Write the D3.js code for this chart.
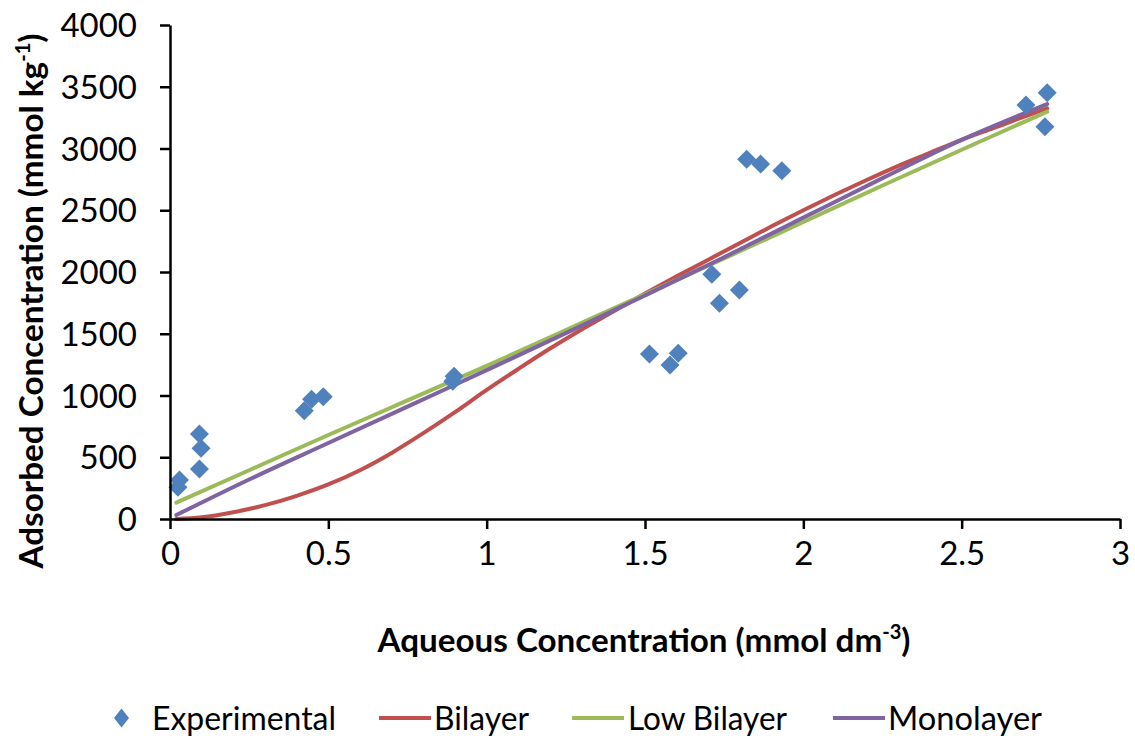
<!DOCTYPE html>
<html>
<head>
<meta charset="utf-8">
<script src="https://cdn.jsdelivr.net/npm/d3@7"></script>
<style>
  html, body { margin: 0; padding: 0; background: #fff; }
  svg { display: block; }
  text { font-family: Lato, "Open Sans", sans-serif; fill: #000; }
</style>
</head>
<body>
<svg id="chart" width="1135" height="738"></svg>
<script>
// Experimental adsorption data
const expX = [0.025, 0.03, 0.093, 0.098, 0.093, 0.424, 0.447, 0.484, 0.893, 0.897,
              1.514, 1.579, 1.605, 1.711, 1.735, 1.798, 1.821, 1.865, 1.932,
              2.703, 2.763, 2.770];
const expY = [257, 316, 405, 572, 688, 877, 969, 990, 1115, 1155,
              1336, 1247, 1342, 1981, 1746, 1854, 2913, 2874, 2820,
              3352, 3177, 3452];

// Bilayer model curve
const bilayerX = [0.02, 0.1, 0.2, 0.3, 0.4, 0.5, 0.6, 0.7, 0.8, 0.9, 1.0, 1.1, 1.2, 1.3,
                  1.4, 1.5, 1.6, 1.7, 1.8, 1.9, 2.0, 2.1, 2.2, 2.3, 2.4, 2.5, 2.6, 2.7, 2.77];
const bilayerY = [0, 14, 55, 112, 188, 280, 395, 535, 695, 865, 1045, 1215, 1380, 1535,
                  1680, 1825, 1965, 2100, 2235, 2370, 2500, 2625, 2745, 2860, 2965, 3070, 3165, 3260, 3325];

// Low bilayer and monolayer model curves
const modelX = [0.02, 0.25, 0.5, 0.75, 1.0, 1.25, 1.5, 1.75, 2.0, 2.25, 2.5, 2.77];
const lowBilayerY = [133, 395, 680, 960, 1240, 1530, 1820, 2110, 2405, 2700, 2990, 3298];
const monolayerY  = [32, 320, 615, 910, 1205, 1505, 1810, 2120, 2440, 2760, 3070, 3360];

const xTicks = [0, 0.5, 1, 1.5, 2, 2.5, 3];
const xTickLabels = ["0", "0.5", "1", "1.5", "2", "2.5", "3"];
const yTicks = [0, 500, 1000, 1500, 2000, 2500, 3000, 3500, 4000];

const seriesNames = ["Experimental", "Bilayer", "Low Bilayer", "Monolayer"];
const colors = { marker: "#4F81BD", bilayer: "#C0504D", low: "#9BBB59", mono: "#8064A2" };

const svg = d3.select("#chart");
const plot = { left: 170, right: 1120, top: 25, bottom: 519 };

const x = d3.scaleLinear().domain([0, 3]).range([plot.left, plot.right]);
const y = d3.scaleLinear().domain([0, 4000]).range([plot.bottom, plot.top]);

// Model curves
const line = d3.line().x(d => x(d[0])).y(d => y(d[1])).curve(d3.curveMonotoneX);
const curves = [
  { xs: bilayerX, ys: bilayerY, color: colors.bilayer },
  { xs: modelX, ys: lowBilayerY, color: colors.low },
  { xs: modelX, ys: monolayerY, color: colors.mono }
];
svg.append("g").selectAll("path")
  .data(curves)
  .join("path")
  .attr("d", c => line(c.xs.map((v, i) => [v, c.ys[i]])))
  .attr("fill", "none")
  .attr("stroke", c => c.color)
  .attr("stroke-width", 4)
  .attr("stroke-linecap", "round");

// Experimental markers (diamonds)
const diamond = (hw, hh) => `M0,${-hh}L${hw},0L0,${hh}L${-hw},0Z`;
svg.append("g").selectAll("path")
  .data(expX.map((v, i) => [v, expY[i]]))
  .join("path")
  .attr("d", diamond(9.5, 9.5))
  .attr("transform", d => `translate(${x(d[0])},${y(d[1])})`)
  .attr("fill", colors.marker);

// Axes
const yAxis = svg.append("g")
  .attr("transform", `translate(${plot.left},0)`)
  .call(d3.axisLeft(y).tickValues(yTicks).tickSize(10).tickSizeOuter(0).tickPadding(23)
        .tickFormat(d3.format("d")));
const xAxis = svg.append("g")
  .attr("transform", `translate(0,${plot.bottom})`)
  .call(d3.axisBottom(x).tickValues(xTicks).tickSize(10).tickSizeOuter(0)
        .tickFormat((d, i) => xTickLabels[i]));

[yAxis, xAxis].forEach(g => {
  g.select(".domain").attr("stroke", "#000").attr("stroke-width", 2.5);
  g.selectAll(".tick line").attr("stroke", "#000").attr("stroke-width", 2.5);
  g.selectAll(".tick text").attr("font-size", 33).attr("font-family", "Lato, sans-serif").attr("fill", "#000");
});
yAxis.selectAll(".tick text").attr("dy", "0.35em");
xAxis.selectAll(".tick text").attr("y", 46).attr("dy", 0);

// Axis titles
const xTitle = svg.append("text")
  .attr("x", 644).attr("y", 652)
  .attr("text-anchor", "middle")
  .attr("font-size", 33).attr("font-weight", "bold")
  .attr("textLength", 533).attr("lengthAdjust", "spacingAndGlyphs");
xTitle.append("tspan").text("Aqueous Concentration (mmol dm");
xTitle.append("tspan").attr("font-size", 20).attr("dy", -13).text("-3");
xTitle.append("tspan").attr("dy", 13).text(")");

const yTitle = svg.append("text")
  .attr("transform", "translate(43,301) rotate(-90)")
  .attr("text-anchor", "middle")
  .attr("font-size", 33).attr("font-weight", "bold")
  .attr("textLength", 535).attr("lengthAdjust", "spacingAndGlyphs");
yTitle.append("tspan").text("Adsorbed Concentration (mmol kg");
yTitle.append("tspan").attr("font-size", 20).attr("dy", -13).text("-1");
yTitle.append("tspan").attr("dy", 13).text(")");

// Legend
const legendY = 718;
const legend = svg.append("g");
legend.append("path")
  .attr("d", diamond(7.5, 9.5))
  .attr("transform", `translate(121.5,${legendY})`)
  .attr("fill", colors.marker);
const legendLines = [
  { x1: 379, x2: 431, color: colors.bilayer },
  { x1: 572, x2: 624, color: colors.low },
  { x1: 833, x2: 885, color: colors.mono }
];
legend.selectAll("line")
  .data(legendLines)
  .join("line")
  .attr("x1", d => d.x1).attr("x2", d => d.x2)
  .attr("y1", legendY).attr("y2", legendY)
  .attr("stroke", d => d.color).attr("stroke-width", 4);
const legendText = [
  { x: 152, w: 184 },
  { x: 434, w: 95 },
  { x: 628, w: 159 },
  { x: 888, w: 154 }
];
legend.selectAll("text")
  .data(seriesNames)
  .join("text")
  .attr("x", (d, i) => legendText[i].x)
  .attr("y", legendY + 11.5)
  .attr("font-size", 32)
  .attr("textLength", (d, i) => legendText[i].w)
  .attr("lengthAdjust", "spacingAndGlyphs")
  .text(d => d);
</script>
</body>
</html>
